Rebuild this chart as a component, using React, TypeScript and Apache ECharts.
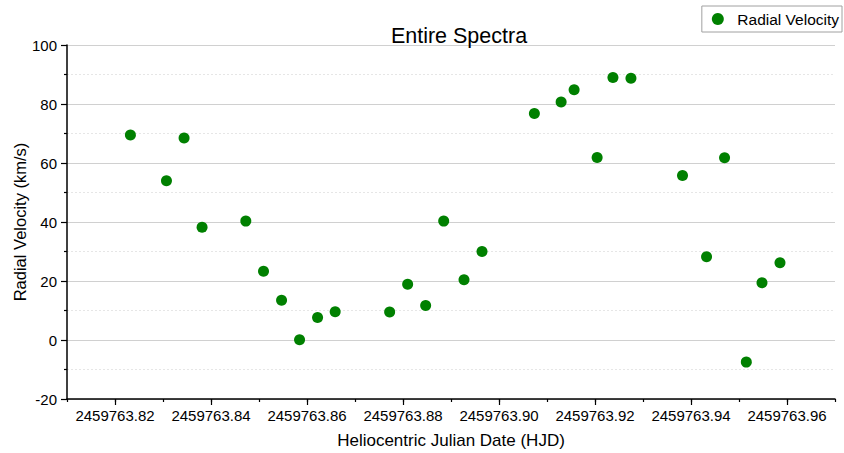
import React, { useEffect, useRef } from "react";
import * as echarts from "echarts";

const hjd: number[] = [
  2459763.82321, 2459763.83072, 2459763.83439, 2459763.83814, 2459763.84725,
  2459763.85094, 2459763.8547, 2459763.85845, 2459763.8622, 2459763.86587,
  2459763.87722, 2459763.88097, 2459763.88472, 2459763.88848, 2459763.89271,
  2459763.89646, 2459763.90737, 2459763.91294, 2459763.91565, 2459763.92044,
  2459763.92374, 2459763.92749, 2459763.93823, 2459763.94324, 2459763.94699,
  2459763.95152, 2459763.95479, 2459763.95854,
];
const radialVelocity: number[] = [
  69.5, 54.0, 68.5, 38.2, 40.3, 23.3, 13.5, 0.1, 7.6, 9.6, 9.5, 18.9, 11.7,
  40.3, 20.4, 30.0, 76.8, 80.7, 84.8, 61.9, 89.0, 88.7, 55.8, 28.2, 61.8,
  -7.5, 19.4, 26.2,
];
const xMajorTicks: number[] = [
  2459763.82, 2459763.84, 2459763.86, 2459763.88, 2459763.9, 2459763.92,
  2459763.94, 2459763.96,
];
const xMin = 2459763.81;
const xMax = 2459763.97;

const FONT = "Liberation Sans, Arial, sans-serif";

export default function App() {
  const ref = useRef<HTMLDivElement>(null);
  useEffect(() => {
    if (!ref.current) return;
    const chart = echarts.init(ref.current, undefined, { renderer: "svg" });
    const data = hjd.map((x, i) => [x, radialVelocity[i]]);
    chart.setOption({
      animation: false,
      textStyle: { fontFamily: FONT },
      title: {
        text: "Entire Spectra",
        left: 454,
        textAlign: "center",
        top: 20,
        textStyle: { fontFamily: FONT, fontSize: 21.5, fontWeight: "normal", color: "#000" },
      },
      legend: {
        right: 2,
        top: 6,
        padding: [5, 3, 5, 10],
        borderColor: "#a0a0a0",
        borderWidth: 1,
        itemWidth: 25,
        itemHeight: 12,
        itemGap: 5,
        icon: "circle",
        textStyle: { fontFamily: FONT, fontSize: 15.5, color: "#000", padding: [0, 0, 0, 2] },
        data: ["Radial Velocity"],
      },
      grid: {
        left: 67,
        right: 9,
        top: 45,
        bottom: 54,
        containLabel: false,
        outerBoundsMode: "none",
      },
      xAxis: [
        {
          type: "value",
          min: xMin,
          max: xMax,
          interval: 0.01,
          position: "bottom",
          name: "Heliocentric Julian Date (HJD)",
          nameLocation: "middle",
          nameGap: 33,
          nameMoveOverlap: false,
          nameTextStyle: { fontFamily: FONT, fontSize: 17, color: "#000" },
          axisLine: { show: true, onZero: false, lineStyle: { color: "#000", width: 1.5 } },
          axisTick: { show: true, length: 3, lineStyle: { color: "#000", width: 1.2 } },
          axisLabel: {
            fontFamily: FONT,
            fontSize: 15,
            color: "#000",
            margin: 9,
            formatter: (v: number) =>
              Math.round(v * 100) % 2 === 0 ? v.toFixed(2) : "",
          },
          splitLine: { show: false },
        },
        {
          type: "value",
          min: xMin,
          max: xMax,
          position: "bottom",
          axisLine: { show: false, onZero: false },
          axisTick: {
            show: true,
            length: 6,
            customValues: xMajorTicks,
            lineStyle: { color: "#000", width: 1.2 },
          },
          axisLabel: { show: false },
          splitLine: { show: false },
        },
      ],
      yAxis: {
        type: "value",
        min: -20,
        max: 100,
        interval: 20,
        name: "Radial Velocity (km/s)",
        nameLocation: "middle",
        nameGap: 39,
        nameMoveOverlap: false,
        nameTextStyle: { fontFamily: FONT, fontSize: 16.5, color: "#000" },
        axisLine: { show: true, onZero: false, lineStyle: { color: "#000", width: 1.5 } },
        axisTick: { show: true, length: 6, lineStyle: { color: "#000", width: 1.2 } },
        minorTick: { show: true, splitNumber: 2, length: 3, lineStyle: { color: "#000", width: 1.2 } },
        axisLabel: { fontFamily: FONT, fontSize: 15, color: "#000", margin: 10 },
        splitLine: { show: true, lineStyle: { color: "#d0d0d0", width: 1 } },
        minorSplitLine: { show: true, lineStyle: { color: "#e6e6e6", width: 1, type: [2, 2] } },
      },
      series: [
        {
          name: "Radial Velocity",
          type: "scatter",
          xAxisIndex: 0,
          data,
          symbol: "circle",
          symbolSize: 11,
          itemStyle: { color: "#008000", opacity: 1 },
        },
      ],
    });
    return () => chart.dispose();
  }, []);
  return <div ref={ref} style={{ width: 844, height: 453, position: "absolute", left: 0, top: 0 }} />;
}
